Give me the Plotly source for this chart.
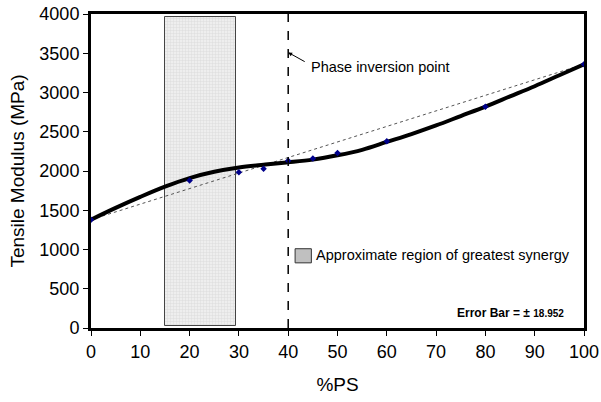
import plotly.graph_objects as go

# Data
ps_pct = [0, 20, 30, 35, 40, 45, 50, 60, 80, 100]
modulus = [1380, 1880, 1985, 2030, 2130, 2160, 2230, 2380, 2820, 3360]

# Fitted trend curve
fit_x = [0, 5, 10, 15, 20, 25, 30, 35, 40, 45, 50, 55, 60, 65, 70, 75, 80, 85, 90, 95, 100]
fit_y = [1380, 1530, 1670, 1800, 1910, 1990, 2045, 2080, 2110, 2145, 2200, 2270, 2370, 2470, 2580, 2700, 2820, 2950, 3080, 3220, 3360]

# Linear rule of mixtures
lin_x = [0, 100]
lin_y = [1380, 3360]

region_x = [15, 29.5]
region_y = [30, 3960]
phase_inv_x = 40

FONT = "Liberation Sans, Arial, sans-serif"

fig = go.Figure()
fig.add_trace(go.Bar(x=[(region_x[0] + region_x[1]) / 2], y=[region_y[1] - region_y[0]], base=[region_y[0]],
                     width=[region_x[1] - region_x[0]],
                     marker=dict(color="#eeeeee", line=dict(color="#444", width=1),
                                 pattern=dict(shape="+", size=3, solidity=0.3, fgcolor="#c8c8c8", bgcolor="#eeeeee")),
                     showlegend=False, hoverinfo="skip"))
fig.add_trace(go.Scatter(x=lin_x, y=lin_y, mode="lines",
                         line=dict(color="#555", width=1, dash="dot"), showlegend=False))
fig.add_trace(go.Scatter(x=fit_x, y=fit_y, mode="lines", line_shape="spline",
                         line=dict(color="black", width=4), showlegend=False))
fig.add_trace(go.Scatter(x=ps_pct, y=modulus, mode="markers",
                         marker=dict(color="#00008b", size=5, symbol="diamond"), showlegend=False))
fig.add_shape(type="line", x0=phase_inv_x, x1=phase_inv_x, y0=0, y1=4000,
              line=dict(color="black", width=1.5, dash="dash"))

fig.add_annotation(x=phase_inv_x, y=3510, ax=18, ay=10,
                   text="", showarrow=True, arrowhead=2, arrowsize=0.8, arrowwidth=1, arrowcolor="black")
fig.add_annotation(x=phase_inv_x + 4.3, y=3330, xanchor="left", yanchor="middle",
                   text="Phase inversion point", showarrow=False,
                   font=dict(family=FONT, size=14.5, color="black"))
# legend-like box
fig.add_shape(type="rect", x0=41.4, x1=44.7, y0=830, y1=1010,
              fillcolor="#c0c0c0", line=dict(color="#333", width=1))
fig.add_annotation(x=45.3, y=925, xanchor="left", yanchor="middle",
                   text="Approximate region of greatest synergy", showarrow=False,
                   font=dict(family=FONT, size=14.5, color="black"))
fig.add_annotation(x=96.3, y=195, xanchor="right", yanchor="middle",
                   text="<b>Error Bar = ± <span style='font-size:10px'>18.952</span></b>", showarrow=False,
                   font=dict(family=FONT, size=12, color="black"))

fig.update_xaxes(range=[0, 100], tickvals=[0, 10, 20, 30, 40, 50, 60, 70, 80, 90, 100],
                 ticks="outside", ticklen=5, tickcolor="black", showgrid=False, zeroline=False,
                 showline=True, linecolor="black", linewidth=3, mirror=True, automargin=False,
                 title=dict(text="%PS", font=dict(size=19), standoff=18),
                 tickfont=dict(size=18))
fig.update_yaxes(range=[0, 4000], tickvals=list(range(0, 4001, 500)),
                 ticks="outside", ticklen=5, tickcolor="black", showgrid=False, zeroline=False,
                 showline=True, linecolor="black", linewidth=3, mirror=True, automargin=False,
                 title=dict(text="Tensile Modulus (MPa)", font=dict(size=19), standoff=10),
                 tickfont=dict(size=18))
fig.update_layout(width=601, height=402, margin=dict(l=91, r=17, t=14, b=74),
                  plot_bgcolor="white", paper_bgcolor="white", bargap=0,
                  font=dict(family=FONT, color="black"))
fig.write_html("out.html")
